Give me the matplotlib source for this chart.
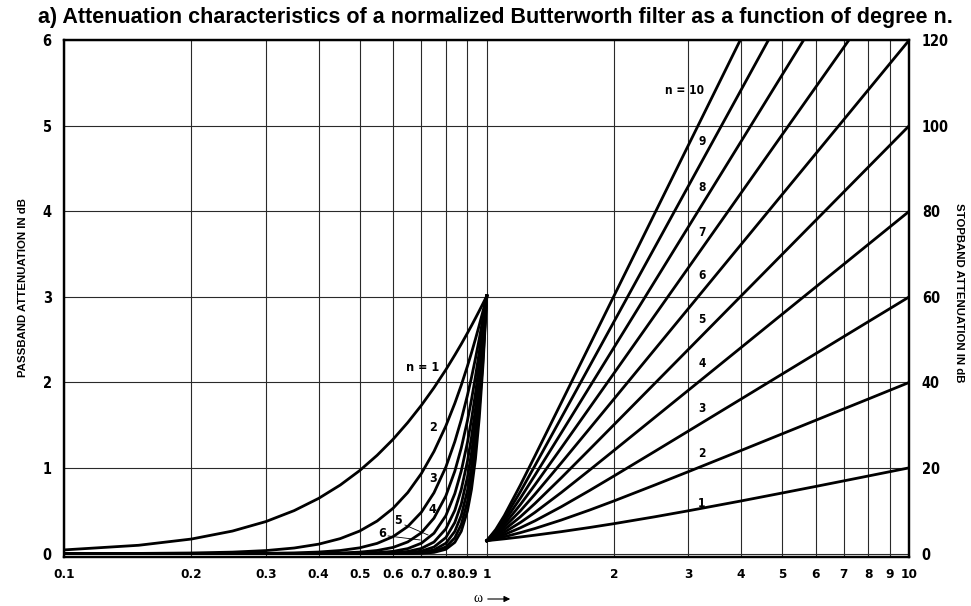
import matplotlib
matplotlib.use("Agg")
import matplotlib.pyplot as plt
from matplotlib import font_manager
from matplotlib.ticker import NullLocator

# passband attenuation (left scale, dB), omega from 0.1 to 1
pass_w = [0.1, 0.15, 0.2, 0.25, 0.3, 0.35, 0.4, 0.45, 0.5, 0.55, 0.6, 0.65,
          0.7, 0.75, 0.8, 0.84, 0.87, 0.9, 0.92, 0.94, 0.96, 0.98, 1.0]
pb_n1 = [0.043, 0.097, 0.170, 0.263, 0.374, 0.502, 0.645, 0.801, 0.969, 1.148, 1.335, 1.531,
         1.732, 1.938, 2.148, 2.319, 2.447, 2.577, 2.663, 2.750, 2.837, 2.924, 3.010]
pb_n2 = [0.000, 0.002, 0.007, 0.017, 0.035, 0.065, 0.110, 0.175, 0.263, 0.380, 0.529, 0.713,
         0.935, 1.194, 1.491, 1.755, 1.967, 2.191, 2.346, 2.506, 2.670, 2.838, 3.010]
pb_n3 = [0.000, 0.000, 0.000, 0.001, 0.003, 0.008, 0.018, 0.036, 0.067, 0.119, 0.198, 0.316,
         0.483, 0.711, 1.011, 1.308, 1.564, 1.851, 2.058, 2.279, 2.511, 2.755, 3.010]
pb_n4 = [0.000, 0.000, 0.000, 0.000, 0.000, 0.001, 0.003, 0.007, 0.017, 0.036, 0.072, 0.136,
         0.243, 0.414, 0.674, 0.962, 1.233, 1.555, 1.799, 2.067, 2.359, 2.674, 3.010]
pb_n5 = [0.000, 0.000, 0.000, 0.000, 0.000, 0.000, 0.000, 0.001, 0.004, 0.011, 0.026, 0.058,
         0.121, 0.238, 0.443, 0.700, 0.964, 1.299, 1.567, 1.871, 2.214, 2.594, 3.010]
pb_n6 = [0.000, 0.000, 0.000, 0.000, 0.000, 0.000, 0.000, 0.000, 0.001, 0.003, 0.009, 0.025,
         0.060, 0.135, 0.289, 0.505, 0.748, 1.080, 1.360, 1.691, 2.076, 2.516, 3.010]
pb_n7 = [0.000, 0.000, 0.000, 0.000, 0.000, 0.000, 0.000, 0.000, 0.000, 0.001, 0.003, 0.010,
         0.029, 0.077, 0.187, 0.363, 0.578, 0.895, 1.177, 1.525, 1.944, 2.440, 3.010]
pb_n8 = [0.000, 0.000, 0.000, 0.000, 0.000, 0.000, 0.000, 0.000, 0.000, 0.000, 0.001, 0.004,
         0.014, 0.043, 0.121, 0.259, 0.444, 0.738, 1.015, 1.372, 1.820, 2.365, 3.010]
pb_n9 = [0.000, 0.000, 0.000, 0.000, 0.000, 0.000, 0.000, 0.000, 0.000, 0.000, 0.000, 0.002,
         0.007, 0.024, 0.078, 0.184, 0.340, 0.607, 0.874, 1.233, 1.702, 2.292, 3.010]
pb_n10 = [0.000, 0.000, 0.000, 0.000, 0.000, 0.000, 0.000, 0.000, 0.000, 0.000, 0.000, 0.001,
          0.004, 0.014, 0.050, 0.131, 0.260, 0.498, 0.751, 1.106, 1.590, 2.221, 3.010]

# stopband attenuation (right scale, dB), omega from 1 to 10
stop_w = [1.0, 1.05, 1.1, 1.2, 1.3, 1.5, 1.75, 2, 2.5, 3, 4, 5, 6, 7, 8, 9, 10]
sb_n1 = [3.01, 3.23, 3.44, 3.87, 4.30, 5.12, 6.09, 6.99, 8.60, 10.00, 12.30, 14.15, 15.68, 16.99, 18.13, 19.14, 20.04]
sb_n2 = [3.01, 3.45, 3.92, 4.88, 5.86, 7.83, 10.16, 12.30, 16.03, 19.14, 24.10, 27.97, 31.13, 33.81, 36.12, 38.17, 40.00]
sb_n3 = [3.01, 3.69, 4.43, 6.01, 7.65, 10.93, 14.73, 18.13, 23.89, 28.63, 36.12, 41.94, 46.69, 50.71, 54.19, 57.25, 60.00]
sb_n4 = [3.01, 3.94, 4.97, 7.24, 9.62, 14.25, 19.49, 24.10, 31.84, 38.17, 48.16, 55.92, 62.25, 67.61, 72.25, 76.34, 80.00]
sb_n5 = [3.01, 4.20, 5.56, 8.57, 11.70, 17.68, 24.32, 30.11, 39.79, 47.71, 60.21, 69.90, 77.82, 84.51, 90.31, 95.42, 100.00]
sb_n6 = [3.01, 4.47, 6.17, 9.96, 13.86, 21.16, 29.17, 36.12, 47.75, 57.25, 72.25, 83.88, 93.38, 101.41, 108.37, 114.51, 120.00]
sb_n7 = [3.01, 4.74, 6.81, 11.41, 16.06, 24.67, 34.03, 42.14, 55.71, 66.80, 84.29, 97.86, 108.94, 118.31, 126.43, 133.59, 140.00]
sb_n8 = [3.01, 5.03, 7.48, 12.90, 18.30, 28.18, 38.89, 48.16, 63.67, 76.34, 96.33, 111.84, 124.50, 135.22, 144.49, 152.68, 160.00]
sb_n9 = [3.01, 5.32, 8.17, 14.41, 20.55, 31.70, 43.75, 54.19, 71.63, 85.88, 108.37, 125.81, 140.07, 152.12, 162.56, 171.76, 180.00]
sb_n10 = [3.01, 5.63, 8.88, 15.95, 22.81, 35.22, 48.61, 60.21, 79.59, 95.42, 120.41, 139.79, 155.63, 169.02, 180.62, 190.85, 200.00]

passband = [pb_n1, pb_n2, pb_n3, pb_n4, pb_n5, pb_n6, pb_n7, pb_n8, pb_n9, pb_n10]
stopband = [sb_n1, sb_n2, sb_n3, sb_n4, sb_n5, sb_n6, sb_n7, sb_n8, sb_n9, sb_n10]

x_ticks = [0.1, 0.2, 0.3, 0.4, 0.5, 0.6, 0.7, 0.8, 0.9, 1, 2, 3, 4, 5, 6, 7, 8, 9, 10]
x_tick_labels = ["0.1", "0.2", "0.3", "0.4", "0.5", "0.6", "0.7", "0.8", "0.9", "1",
                 "2", "3", "4", "5", "6", "7", "8", "9", "10"]
left_ticks = [0, 1, 2, 3, 4, 5, 6]
right_ticks = [0, 20, 40, 60, 80, 100, 120]

# curve labels: (text, omega, value)
pass_labels = [("n = 1", 0.703, 2.17), ("2", 0.746, 1.47), ("3", 0.746, 0.88),
               ("4", 0.742, 0.51), ("5", 0.616, 0.39), ("6", 0.565, 0.24)]
stop_labels = [("n = 10", 2.945, 108.1), ("9", 3.23, 96.2), ("8", 3.23, 85.6),
               ("7", 3.23, 75.1), ("6", 3.23, 64.9), ("5", 3.23, 54.6),
               ("4", 3.23, 44.3), ("3", 3.23, 34.0), ("2", 3.23, 23.3), ("1", 3.23, 11.6)]

TITLE = "a) Attenuation characteristics of a normalized Butterworth filter as a function of degree n."

# narrow bold face for numbers, like the scanned chart
fonts = font_manager.fontManager.ttflist
names = {f.name for f in fonts}
if "Liberation Sans Narrow" in names:
    NARROW, STRETCH, SCALE = "Liberation Sans Narrow", "normal", 1.0
elif any(f.name == "DejaVu Sans" and f.stretch == "condensed" for f in fonts):
    NARROW, STRETCH, SCALE = "DejaVu Sans", "condensed", 0.95
else:
    NARROW, STRETCH, SCALE = "Liberation Sans", "normal", 0.85

plt.rcParams["font.family"] = [NARROW, "DejaVu Sans"]
plt.rcParams["font.stretch"] = STRETCH
plt.rcParams["font.weight"] = "bold"
plt.rcParams["font.size"] = 11 * SCALE

fig = plt.figure(figsize=(9.71, 6.06), dpi=100)
W, H = 971, 606
ax = fig.add_axes([64.3 / W, 1 - 557 / H, (909.3 - 64.3) / W, (557 - 40) / H])
ax.set_xscale("log")
ax.set_xlim(0.1, 10)
ax.set_ylim(-0.04, 6)
ax.set_xticks(x_ticks)
ax.set_xticklabels(x_tick_labels)
ax.xaxis.set_minor_locator(NullLocator())
ax.set_yticks(left_ticks)
ax.grid(True, color="#2a2a2a", lw=0.8)
ax.tick_params(axis="both", length=0)
ax.tick_params(axis="x", pad=8, labelsize=10.2 * SCALE)
ax.tick_params(axis="y", pad=9)

for vals in passband:
    ax.plot(pass_w, vals, color="black", lw=2.0)

for txt, w, v in pass_labels:
    ax.text(w, v, txt, ha="center", va="center", fontsize=9.5 * SCALE)
ax.plot([0.640, 0.726], [0.334, 0.217], color="black", lw=0.6)
ax.plot([0.584, 0.695], [0.206, 0.159], color="black", lw=0.6)

ax2 = ax.twinx()
ax2.set_ylim(-0.8, 120)
ax2.set_yticks(right_ticks)
ax2.tick_params(axis="y", length=0, pad=9)
for vals in stopband:
    ax2.plot(stop_w, vals, color="black", lw=2.0)
for txt, w, v in stop_labels:
    ax2.text(w, v, txt, ha="center", va="center", fontsize=9 * SCALE)

for a in (ax, ax2):
    for s in a.spines.values():
        s.set_linewidth(1.6)

fig.text(23.5 / W, 1 - 288 / H, "PASSBAND ATTENUATION IN dB", rotation=90,
         ha="center", va="center", fontsize=8.2, family="Liberation Sans", stretch="normal")
fig.text(959 / W, 1 - 293 / H, "STOPBAND ATTENUATION IN dB", rotation=-90,
         ha="center", va="center", fontsize=8.2, family="Liberation Sans", stretch="normal")

fig.text(478 / W, 1 - 599 / H, "\u03c9", ha="center", va="center", fontsize=10,
         fontweight="normal", family="Liberation Serif", stretch="normal")
ax.annotate("", xy=(513 / W, 1 - 599 / H), xytext=(485 / W, 1 - 599 / H),
            xycoords="figure fraction", textcoords="figure fraction",
            arrowprops=dict(arrowstyle="-|>", lw=0.8, color="black", mutation_scale=9))

fig.text(495 / W, 1 - 18 / H, TITLE, ha="center", va="center", fontsize=15.5,
         fontweight="bold", family="Liberation Sans", stretch="normal")

fig.savefig("out.png", dpi=100)
